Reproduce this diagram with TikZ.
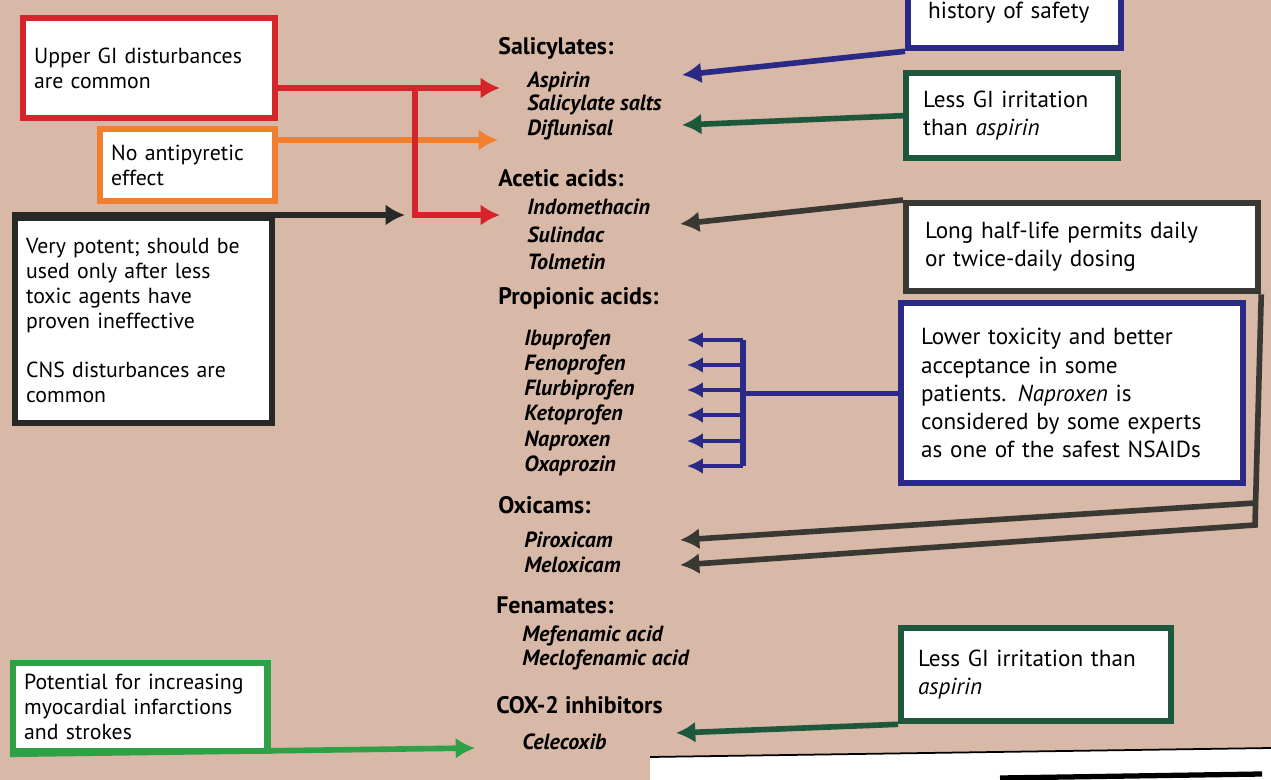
\documentclass[tikz,border=0pt]{standalone}
\usepackage{fontspec}
\setmainfont{PT Sans}
\usepackage{xcolor}
\usepackage{tikz}
\usetikzlibrary{arrows.meta}
\usetikzlibrary{positioning}

\definecolor{paper}{RGB}{216,184,166}
\definecolor{redc}{RGB}{214,36,44}
\definecolor{orangec}{RGB}{240,128,48}
\definecolor{blackc}{RGB}{40,40,38}
\definecolor{greyc}{RGB}{58,56,50}
\definecolor{greenc}{RGB}{46,160,70}
\definecolor{navyc}{RGB}{42,42,134}
\definecolor{tealc}{RGB}{30,88,60}

\begin{document}
\begin{tikzpicture}[x=0.02cm,y=-0.02cm,
  infobox/.style={draw, fill=white, line width=3.6pt, anchor=north west, align=left,
    inner xsep=0.22cm, font=\fontsize{12.4}{14.2}\selectfont},
  bigtext/.style={font=\fontsize{13.2}{16}\selectfont},
  head/.style={anchor=west, inner sep=0pt, font=\fontsize{13.6}{15}\selectfont\bfseries},
  drug/.style={anchor=west, inner sep=0pt, font=\fontsize{12.5}{14}\selectfont\bfseries\itshape},
  conn/.style={line width=3.2pt, arrows={-Latex[length=11pt,width=12pt]}},
  thinconn/.style={line width=2.4pt, arrows={-Latex[length=9pt,width=9pt]}}]
\useasboundingbox (0,0) rectangle (1271,780);
\clip (0,0) rectangle (1271,780);
\fill[paper] (0,0) rectangle (1271,780);
% page edge at the bottom
\fill[white] (650,757) -- (1271,748) -- (1271,780) -- (650,780) -- cycle;
\draw[line width=1pt, black] (650,757) -- (1271,748);
\draw[line width=3pt, black] (1000,778) -- (1262,774);

% drug classes
\node[head] (salic) at (498,48) {Salicylates:};
\node[drug] (aspirin) at (527,82) {Aspirin};
\node[drug] (salts) at (527,105) {Salicylate salts};
\node[drug] (diflu) at (527,130) {Diflunisal};
\node[head] (acetic) at (498,178) {Acetic acids:};
\node[drug] (indo) at (527,207) {Indomethacin};
\node[drug] (sulin) at (527,235) {Sulindac};
\node[drug] (tolm) at (527,262) {Tolmetin};
\node[head] (propi) at (498,298) {Propionic acids:};
\node[drug] (ibu) at (524,340) {Ibuprofen};
\node[drug] (feno) at (524,365) {Fenoprofen};
\node[drug] (flurbi) at (524,390) {Flurbiprofen};
\node[drug] (keto) at (524,415) {Ketoprofen};
\node[drug] (napro) at (524,441) {Naproxen};
\node[drug] (oxa) at (524,466) {Oxaprozin};
\node[head] (oxic) at (498,505) {Oxicams:};
\node[drug] (pirox) at (524,540) {Piroxicam};
\node[drug] (melox) at (524,565) {Meloxicam};
\node[head] (fenam) at (496,605) {Fenamates:};
\node[drug] (mefen) at (522,636) {Mefenamic acid};
\node[drug] (meclo) at (522,660) {Meclofenamic acid};
\node[head] (cox) at (496,705) {COX-2 inhibitors};
\node[drug] (cele) at (522,742) {Celecoxib};

% boxes on the left
\node[infobox, draw=redc, text width=4.6cm, minimum height=2.0cm] (upper) at (20,15)
  {Upper GI disturbances\\are common};
\node[infobox, draw=orangec, text width=3.06cm, minimum height=1.44cm] (noanti) at (97,126)
  {No antipyretic\\effect};
\node[infobox, draw=blackc, text width=4.7cm, minimum height=4.1cm] (potent) at (12,215)
  {Very potent; should be\\used only after less\\toxic agents have\\proven ineffective\\[14pt]CNS disturbances are\\common};
\node[infobox, draw=greenc, text width=4.65cm, minimum height=1.76cm] (potential) at (10,660)
  {Potential for increasing\\myocardial infarctions\\and strokes};

% boxes on the right
\node[infobox, bigtext, draw=navyc, inner xsep=0.4cm, text width=3.46cm, minimum height=1.4cm] (hist) at (905,-25)
  {history of safety};
\node[infobox, bigtext, draw=tealc, inner xsep=0.34cm, text width=3.56cm, minimum height=1.7cm] (lessgi) at (903,70)
  {Less GI irritation\\than \textit{aspirin}};
\node[infobox, bigtext, draw=greyc, inner xsep=0.38cm, text width=6.28cm, minimum height=1.76cm] (long) at (903,200)
  {Long half-life permits daily\\or twice-daily dosing};
\node[infobox, bigtext, draw=navyc, inner xsep=0.4cm, text width=6.04cm, minimum height=3.6cm] (lower) at (898,300)
  {Lower toxicity and better\\acceptance in some\\patients. \textit{Naproxen} is\\considered by some experts\\as one of the safest NSAIDs};
\node[infobox, bigtext, draw=tealc, inner xsep=0.34cm, text width=4.72cm, minimum height=1.86cm] (lessgib) at (898,625)
  {Less GI irritation than\\\textit{aspirin}};

% connector ends
\coordinate (tAsp) at (500,88);
\coordinate (jRed) at (415,88);
\coordinate (tIndo) at (500,215);
\coordinate (tDif) at (498,140);
\coordinate (tPot) at (405,215);
\coordinate (tCel) at (475,748);
\coordinate (tAspR) at (682,75);
\coordinate (tDifR) at (682,125);
\coordinate (tIndoR) at (680,224);
\coordinate (jOxa) at (1255,503);
\coordinate (jOxb) at (1255,525);
\coordinate (tPirox) at (680,540);
\coordinate (tMelox) at (680,565);
\coordinate (vBar) at (743,0);
\coordinate (bTip) at (687,0);
\coordinate (tCeleR) at (676,733);

% left connectors
\draw[conn, draw=orangec, color=orangec] (noanti.east |- tDif) -- (tDif);
\draw[conn, draw=redc, color=redc] (upper.east |- tAsp) -- (tAsp);
\draw[conn, draw=redc, color=redc, line join=miter] (jRed) |- (tIndo);
\draw[conn, draw=blackc, color=blackc] (potent.north west) -- (tPot);
\draw[conn, draw=greenc, color=greenc] (potential.south west) -- (tCel);

% right connectors
\draw[conn, draw=navyc, color=navyc] (hist.south west) -- (tAspR);
\draw[conn, draw=tealc, color=tealc] (lessgi.west) -- (tDifR);
\draw[conn, draw=greyc, color=greyc] (long.north west) -- (tIndoR);
\draw[conn, draw=greyc, color=greyc, line join=miter] (long.south east) -- (jOxb) -- (tMelox);
\draw[conn, draw=greyc, color=greyc] (jOxa) -- (tPirox);
\draw[line width=3pt, navyc] (lower.west) -- (lower.west -| vBar);
\draw[line width=3pt, navyc] (ibu -| vBar) -- (oxa -| vBar);
\foreach \d in {ibu,feno,flurbi,keto,napro,oxa}
  \draw[thinconn, draw=navyc, color=navyc] (\d -| vBar) -- (\d -| bTip);
\draw[conn, draw=tealc, color=tealc] (lessgib.south west) -- (tCeleR);
\end{tikzpicture}
\end{document}
